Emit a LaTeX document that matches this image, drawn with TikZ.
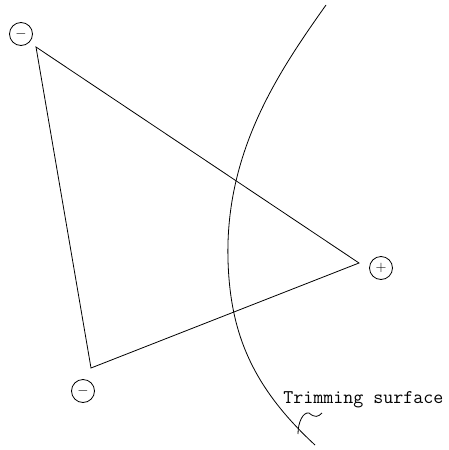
\documentclass[tikz,border=0pt]{standalone}
\begin{document}
\begin{tikzpicture}[x=1pt,y=-1pt,line width=0.8pt,
  sign/.style={draw,circle,inner sep=0pt,minimum size=23pt,font=\fontsize{14}{14}\selectfont},
  lbl/.style={font=\fontsize{19.4}{19.4}\selectfont\ttfamily,inner sep=0pt,anchor=base west}]
\useasboundingbox (0,0) rectangle (449,450);
\coordinate (A) at (36,47);
\coordinate (B) at (359,263);
\coordinate (C) at (91,368);
\draw (A) -- (B) -- (C) -- cycle;
\node[sign] (sA) at (21,34) {$-$};
\node[sign] (sB) at (381,268) {$+$};
\node[sign] (sC) at (83,391) {$-$};
\coordinate (t0) at (326,5);
\coordinate (t1) at (315,445);
\draw (t0) .. controls (280,70) and (225,150) .. (228,260)
      .. controls (230,330) and (250,385) .. (t1);
\node[lbl] (lab) at (283,403) {Trimming surface};
\coordinate (w0) at (298,434);
\draw (w0) .. controls (298,422) and (303,412) .. (309,413) .. controls (315,418) and (318,417) .. (322,413);
\end{tikzpicture}
\end{document}
